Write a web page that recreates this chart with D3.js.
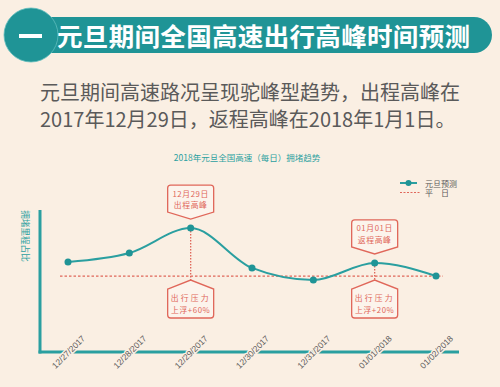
<!DOCTYPE html>
<html><head><meta charset="utf-8">
<script src="https://cdn.jsdelivr.net/npm/d3@7"></script>
<style>
html,body{margin:0;padding:0;background:#faefe3;}
svg{display:block;font-family:"Noto Sans CJK SC","Noto Sans",sans-serif;}
</style></head>
<body><svg id="c" width="500" height="387"></svg>
<script>
const categories = ["12/27/2017","12/28/2017","12/29/2017","12/30/2017","12/31/2017","01/01/2018","01/02/2018"];
const forecast = [63.4, 69.7, 87.3, 59.2, 50.7, 62.7, 53.5];
const normalDay = [53.5, 53.5, 53.5, 53.5, 53.5, 53.5, 53.5];
const peaks = [
  {index: 2, top: ["12月29日", "出程高峰"], bottom: ["出行压力", "上浮+60%"]},
  {index: 5, top: ["01月01日", "返程高峰"], bottom: ["出行压力", "上浮+20%"]}
];
const legendLabels = ["元旦预测", "平　日"];
const titleText = "元旦期间全国高速出行高峰时间预测";
const introLines = ["元旦期间高速路况呈现驼峰型趋势，出程高峰在", "2017年12月29日，返程高峰在2018年1月1日。"];
const chartTitle = "2018年元旦全国高速（每日）拥堵趋势";
const yName = "拥堵里程占比";

const TEAL = "#2a9fa0", TEAL_D = "#1f9496", RED = "#e0675a", BG = "#faefe3", GREY = "#5a5a5a";
const svg = d3.select("#c");
svg.append("rect").attr("width",500).attr("height",387).attr("fill",BG);

// banner
svg.append("rect").attr("x",30).attr("y",17).attr("width",462).attr("height",36).attr("rx",18).attr("fill",TEAL_D);
svg.append("circle").attr("cx",31).attr("cy",35).attr("r",27).attr("fill",TEAL_D).attr("stroke","#5fbcbc").attr("stroke-width",0.8);
svg.append("rect").attr("x",19).attr("y",34).attr("width",23).attr("height",4).attr("fill","#fff");
svg.append("text").attr("x",57).attr("y",46).attr("font-size",25.5).attr("font-weight","bold")
  .attr("fill","#fff").attr("textLength",413).attr("lengthAdjust","spacing").text(titleText);

// intro
introLines.forEach((t,i)=>{
  svg.append("text").attr("x",40).attr("y",100+i*27).attr("font-size",20).attr("fill",GREY).text(t);
});

// chart title
svg.append("text").attr("x",247).attr("y",161).attr("text-anchor","middle").attr("font-size",8.5)
  .attr("fill",TEAL).text(chartTitle);

// scales
const x = d3.scalePoint().domain(categories).range([68,436]);
const y = d3.scaleLinear().domain([0,100]).range([352,210]);

// axes
svg.append("line").attr("x1",40).attr("x2",40).attr("y1",210).attr("y2",353.5).attr("stroke",TEAL).attr("stroke-width",3);
svg.append("line").attr("x1",38.5).attr("x2",459).attr("y1",352).attr("y2",352).attr("stroke",TEAL).attr("stroke-width",3);
svg.append("text").attr("transform","translate(26,236) rotate(90)").attr("text-anchor","middle")
  .attr("dominant-baseline","central").attr("font-size",8.6).attr("fill",TEAL).text(yName);

const xAxis = d3.axisBottom(x).tickSize(0);
const gx = svg.append("g").attr("transform","translate(0,352)").call(xAxis);
gx.select(".domain").remove();
gx.selectAll("text").attr("transform","rotate(-45)").attr("x",0).attr("y",0).attr("dy","0.35em")
  .attr("text-anchor","middle").attr("font-size",8.5).attr("fill",GREY)
  .attr("stroke",BG).attr("stroke-width",3).attr("paint-order","stroke")
  .attr("font-family","'Liberation Sans',Arial,sans-serif");

// normal day line
svg.append("path").datum(normalDay)
  .attr("d", d3.line().x((d,i)=>i===0?60:(i===normalDay.length-1?443:x(categories[i]))).y(d=>y(d)))
  .attr("fill","none").attr("stroke",RED).attr("stroke-width",1.3).attr("stroke-dasharray","2.5,2");

function twoLines(cx, y0, lines, spacing){
  lines.forEach((s,i)=>svg.append("text").attr("text-anchor","middle").attr("font-size",7.8).attr("fill",RED)
    .attr("x",cx).attr("y",y0+i*11.5).attr("dominant-baseline","central")
    .attr("letter-spacing",spacing && i===0?2.2:0.6).text(s));
}

// callouts
peaks.forEach(p=>{
  const cx = x(categories[p.index]), py = y(forecast[p.index]), by = y(normalDay[p.index]);
  const w = 46, h = 27, r = 3;
  const tip = py - 9, side = tip - 7, top = side - h;
  svg.append("line").attr("x1",cx).attr("x2",cx).attr("y1",py).attr("y2",by+4)
    .attr("stroke",RED).attr("stroke-width",1.3).attr("stroke-dasharray","1.5,1.5");
  const l = cx - w/2, rr = cx + w/2;
  const up = `M${l},${side} L${l},${top+r} Q${l},${top} ${l+r},${top} L${rr-r},${top} Q${rr},${top} ${rr},${top+r} L${rr},${side} L${cx},${tip} Z`;
  svg.append("path").attr("d",up).attr("fill","#fcf4ec").attr("stroke",RED).attr("stroke-width",1.3);
  twoLines(cx, top+8, p.top, false);
  const t2 = by + 4, s2 = t2 + 9, b2 = 318;
  const dn = `M${l},${s2} L${cx},${t2} L${rr},${s2} L${rr},${b2-r} Q${rr},${b2} ${rr-r},${b2} L${l+r},${b2} Q${l},${b2} ${l},${b2-r} Z`;
  svg.append("path").attr("d",dn).attr("fill","#fcf4ec").attr("stroke",RED).attr("stroke-width",1.3);
  twoLines(cx, s2+8.5, p.bottom, true);
});

// forecast line
svg.append("path").datum(forecast)
  .attr("d", d3.line().x((d,i)=>x(categories[i])).y(d=>y(d)).curve(d3.curveMonotoneX))
  .attr("fill","none").attr("stroke",TEAL).attr("stroke-width",2);
svg.selectAll(".pt").data(forecast).enter().append("circle")
  .attr("cx",(d,i)=>x(categories[i])).attr("cy",d=>y(d)).attr("r",3.5).attr("fill",TEAL_D);

// legend
svg.append("line").attr("x1",400).attr("x2",417).attr("y1",183).attr("y2",183).attr("stroke",TEAL).attr("stroke-width",2);
svg.append("circle").attr("cx",408.5).attr("cy",183).attr("r",3).attr("fill",TEAL_D);
svg.append("line").attr("x1",400).attr("x2",420).attr("y1",192.5).attr("y2",192.5).attr("stroke",RED).attr("stroke-width",1.2).attr("stroke-dasharray","2,1.5");
legendLabels.forEach((t,i)=>svg.append("text").attr("x",425).attr("y",183+i*9.5).attr("dominant-baseline","central")
  .attr("font-size",8).attr("fill",GREY).text(t));
</script></body></html>
